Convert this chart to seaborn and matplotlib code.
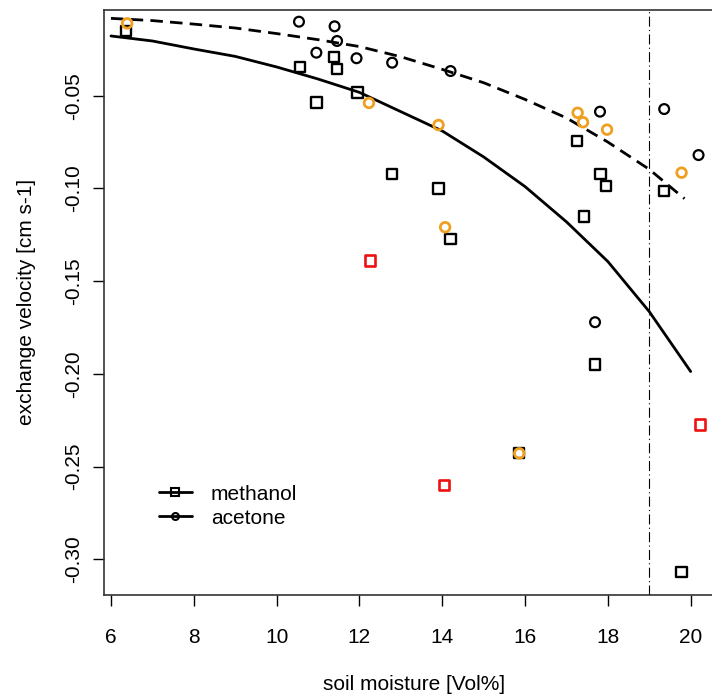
import matplotlib
matplotlib.use("Agg")
import matplotlib.pyplot as plt
import seaborn as sns
from matplotlib.lines import Line2D

# fitted curves
fit_x = [6, 7, 8, 9, 10, 11, 12, 13, 14, 15, 16, 17, 18, 19, 20]
methanol_fit = [-0.0178, -0.0205, -0.0248, -0.0288, -0.0345, -0.0410, -0.0482,
                -0.0586, -0.0690, -0.0830, -0.0990, -0.1180, -0.1394, -0.1664, -0.1987]
acetone_fit_x = [6, 7, 8, 9, 10, 11, 12, 13, 14, 15, 16, 17, 18, 19, 19.85]
acetone_fit = [-0.0083, -0.0095, -0.0114, -0.0135, -0.0165, -0.0198, -0.0235,
               -0.0290, -0.0358, -0.0430, -0.0520, -0.0620, -0.0750, -0.0897, -0.1055]

# methanol measurements
meth_x = [6.37, 10.56, 10.96, 11.38, 11.46, 11.95, 12.78, 13.91, 14.20, 15.86,
          17.26, 17.42, 17.69, 17.82, 17.96, 19.35, 19.78]
meth_y = [-0.0151, -0.0345, -0.0536, -0.0293, -0.0356, -0.0482, -0.0923, -0.1001,
          -0.1274, -0.2428, -0.0744, -0.1152, -0.1949, -0.0923, -0.0987, -0.1012, -0.3066]
meth_out_x = [12.25, 14.04, 20.22]
meth_out_y = [-0.1389, -0.2600, -0.2273]

# acetone measurements
acet_x = [10.54, 10.96, 11.40, 11.46, 11.93, 12.79, 14.20, 17.69, 17.81, 19.36, 20.19]
acet_y = [-0.0101, -0.0268, -0.0126, -0.0205, -0.0298, -0.0322, -0.0367, -0.1721,
          -0.0586, -0.0572, -0.0820]
acet_out_x = [6.39, 12.23, 13.91, 14.07, 15.86, 17.27, 17.40, 17.98, 19.78]
acet_out_y = [-0.0110, -0.0539, -0.0658, -0.1209, -0.2428, -0.0592, -0.0643, -0.0683, -0.0915]

threshold = 19

sns.set_style("white")
plt.rcParams['font.family'] = ['Liberation Sans', 'DejaVu Sans']
plt.rcParams['text.color'] = 'black'
plt.rcParams['axes.labelcolor'] = 'black'
plt.rcParams['xtick.color'] = 'black'
plt.rcParams['ytick.color'] = 'black'

fig = plt.figure(figsize=(7.12, 6.95), dpi=100)
ax = fig.add_axes([0.146, 0.1446, 0.87, 0.841])

# fits
sns.lineplot(x=fit_x, y=methanol_fit, ax=ax, color='black', lw=2, estimator=None, sort=False)
sns.lineplot(x=acetone_fit_x, y=acetone_fit, ax=ax, color='black', lw=2, estimator=None,
             sort=False, dashes=False)
ax.lines[-1].set_dashes((4.5, 2.6))
ax.axvline(threshold, color='black', lw=0.8, ls=(0, (9, 3, 1, 3)))

# points
sns.scatterplot(x=meth_x, y=meth_y, ax=ax, marker='s', s=55, fc='none', ec='black', linewidth=1.7, zorder=3)
sns.scatterplot(x=meth_out_x, y=meth_out_y, ax=ax, marker='s', s=55, fc='none', ec='#ee1111', linewidth=1.9, zorder=3)
sns.scatterplot(x=acet_x, y=acet_y, ax=ax, marker='o', s=50, fc='none', ec='black', linewidth=1.6, zorder=3)
sns.scatterplot(x=acet_out_x, y=acet_out_y, ax=ax, marker='o', s=48, fc='none', ec='#f0a020', linewidth=2.0, zorder=4)

ax.set_xlim(5.83, 20.79)
ax.set_ylim(-0.3189, -0.0038)
ax.set_xticks([6, 8, 10, 12, 14, 16, 18, 20])
ax.set_yticks([-0.05, -0.10, -0.15, -0.20, -0.25, -0.30])
ax.set_yticklabels(['-0.05', '-0.10', '-0.15', '-0.20', '-0.25', '-0.30'], rotation=90, va='center')
ax.tick_params(axis='both', direction='out', length=8, width=1, labelsize=15,
               bottom=True, left=True)
ax.tick_params(axis='x', pad=16)
ax.tick_params(axis='y', pad=7)
for s in ax.spines.values():
    s.set_color('#333333')
    s.set_linewidth(1.2)

ax.set_xlabel('soil moisture [Vol%]', fontsize=15, labelpad=20)
ax.set_ylabel('exchange velocity [cm s-1]', fontsize=15, labelpad=20)

handles = [Line2D([], [], color='black', lw=2, marker='s', ms=6, mfc='none', mew=1.5),
           Line2D([], [], color='black', lw=2, marker='o', ms=5, mfc='none', mew=1.5)]
ax.legend(handles, ['methanol', 'acetone'], loc='lower left', bbox_to_anchor=(0.075, 0.1),
          borderaxespad=0, frameon=False, fontsize=15, handlelength=1.6, handletextpad=0.9,
          labelspacing=0.25)

fig.savefig('out.png', dpi=100)
